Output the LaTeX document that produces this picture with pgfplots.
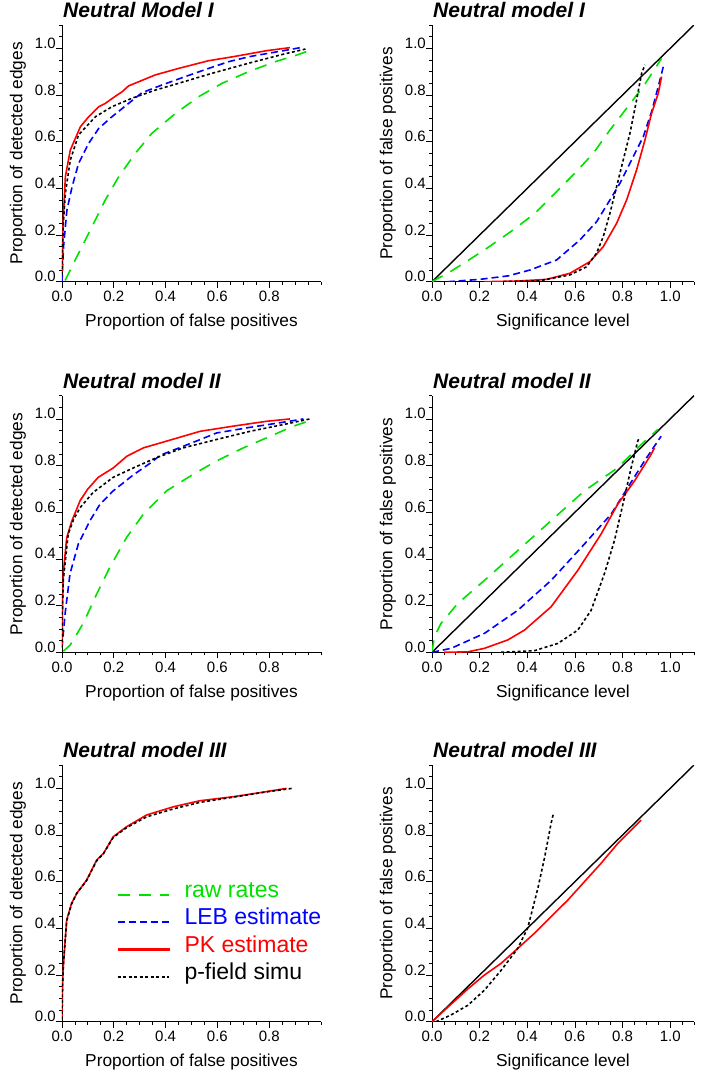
\documentclass[border=0pt]{standalone}
\usepackage{fontspec}
\setmainfont{Liberation Sans}
\usepackage{pgfplots}
\pgfplotsset{compat=1.18}

\definecolor{cgreen}{RGB}{0,225,0}
\definecolor{cblue}{RGB}{0,0,255}
\definecolor{cred}{RGB}{255,0,0}

\pgfplotsset{
  panel/.style={
    scale only axis, height=256.7pt,
    axis x line=bottom, axis y line=left,
    axis line style={-, line width=0.9pt},
    tick align=outside, major tick length=6pt, minor tick length=3pt,
    every tick/.style={black, line width=0.8pt},
    ymin=0, ymax=1.1,
    ytick={0,0.2,...,1.0}, minor ytick={0.05,0.1,...,1.1},
    scaled ticks=false,
    /pgf/number format/fixed, /pgf/number format/fixed zerofill,
    /pgf/number format/precision=1, /pgf/number format/assume math mode=true,
    tick label style={font=\fontsize{15}{18}\selectfont},
    yticklabel style={anchor=base east, inner sep=0pt},
    label style={font=\fontsize{17.3}{20}\selectfont},
    xlabel style={at={(axis description cs:0.5,0)}, anchor=base, yshift=-45pt},
    title style={font=\fontsize{21}{25}\selectfont\bfseries\itshape,
      at={(axis description cs:0,1)}, anchor=base west, inner sep=0pt, yshift=1.5pt, xshift=1pt},
  },
  leftpanel/.style={panel, width=259pt, xmin=0, xmax=1.0,
    xtick={0,0.2,...,0.8}, minor xtick={0.05,0.1,...,1.0},
    xlabel={Proportion of false positives}, ylabel={Proportion of detected edges},
    ylabel style={at={(axis description cs:-0.17,0.5)}, anchor=center}},
  rightpanel/.style={panel, width=262pt, xmin=0, xmax=1.1,
    xtick={0,0.2,...,1.0}, minor xtick={0.05,0.1,...,1.1},
    xlabel={Significance level}, ylabel={Proportion of false positives},
    ylabel style={at={(axis description cs:-0.168,0.5)}, anchor=center}},
  rawstyle/.style={cgreen, line width=1.6pt, dash pattern=on 12pt off 9pt},
  lebstyle/.style={cblue, line width=1.6pt, dash pattern=on 7pt off 4pt},
  pkstyle/.style={cred, line width=1.6pt},
  pfstyle/.style={black, line width=1.6pt, dash pattern=on 3pt off 2.5pt},
  diag/.style={black, line width=1.4pt},
}

\begin{document}
\begin{tikzpicture}
\path[use as bounding box] (0pt,0pt) rectangle (702pt,-1076pt);

% ---- row 1 ----
\begin{axis}[leftpanel, at={(62pt,-281.7pt)}, anchor=south west, title={Neutral Model I}]
\addplot[rawstyle] coordinates {(0.012,0.005)(0.019,0.021)(0.045,0.08)(0.077,0.15)(0.122,0.25)(0.167,0.35)(0.219,0.45)(0.283,0.55)(0.347,0.636)(0.438,0.721)(0.528,0.793)(0.618,0.85)(0.72,0.9)(0.824,0.943)(0.906,0.971)(0.97,0.996)};
\addplot[lebstyle] coordinates {(0,0.0)(0.003,0.08)(0.006,0.15)(0.019,0.307)(0.039,0.407)(0.064,0.507)(0.103,0.593)(0.142,0.657)(0.193,0.707)(0.257,0.764)(0.309,0.81)(0.386,0.843)(0.476,0.879)(0.566,0.914)(0.644,0.943)(0.726,0.965)(0.855,0.99)(0.925,1.004)};
\addplot[pkstyle] coordinates {(0,0.036)(0.004,0.25)(0.013,0.45)(0.032,0.564)(0.071,0.664)(0.103,0.707)(0.142,0.75)(0.167,0.764)(0.2,0.79)(0.232,0.814)(0.257,0.839)(0.36,0.886)(0.45,0.914)(0.566,0.947)(0.66,0.964)(0.79,0.99)(0.88,1.003)};
\addplot[pfstyle] coordinates {(0,0.03)(0.005,0.25)(0.013,0.379)(0.032,0.521)(0.064,0.629)(0.129,0.707)(0.193,0.75)(0.27,0.786)(0.36,0.821)(0.45,0.85)(0.579,0.893)(0.72,0.936)(0.855,0.975)(0.94,0.997)};
\end{axis}

\begin{axis}[rightpanel, at={(432pt,-281.7pt)}, anchor=south west, title={Neutral model I}]
\addplot[diag] coordinates {(0,0)(1.1,1.1)};
\addplot[rawstyle] coordinates {(0,0)(0.08,0.045)(0.15,0.09)(0.23,0.143)(0.341,0.222)(0.432,0.293)(0.516,0.379)(0.60,0.465)(0.677,0.55)(0.747,0.65)(0.817,0.743)(0.887,0.836)(0.964,0.957)};
\addplot[lebstyle] coordinates {(0.066,0)(0.201,0.01)(0.32,0.025)(0.411,0.05)(0.523,0.093)(0.621,0.179)(0.691,0.257)(0.747,0.35)(0.789,0.422)(0.838,0.522)(0.887,0.621)(0.922,0.729)(0.95,0.836)(0.971,0.921)};
\addplot[pkstyle] coordinates {(0.22,0)(0.36,0.003)(0.481,0.01)(0.579,0.036)(0.663,0.086)(0.719,0.15)(0.775,0.25)(0.817,0.35)(0.859,0.479)(0.894,0.607)(0.922,0.722)(0.95,0.807)(0.964,0.879)};
\addplot[pfstyle] coordinates {(0.3,0)(0.45,0.004)(0.579,0.029)(0.649,0.064)(0.691,0.122)(0.719,0.193)(0.747,0.293)(0.775,0.407)(0.803,0.522)(0.831,0.636)(0.859,0.779)(0.88,0.893)(0.894,0.929)};
\end{axis}

% ---- row 2 ----
\begin{axis}[leftpanel, at={(62pt,-652.3pt)}, anchor=south west, title={Neutral model II}]
\addplot[rawstyle] coordinates {(0.005,0.005)(0.031,0.03)(0.082,0.124)(0.134,0.25)(0.185,0.365)(0.25,0.493)(0.314,0.592)(0.404,0.692)(0.507,0.763)(0.597,0.82)(0.70,0.876)(0.79,0.919)(0.893,0.969)(0.97,0.997)};
\addplot[lebstyle] coordinates {(0,0.02)(0.005,0.08)(0.012,0.166)(0.031,0.337)(0.063,0.464)(0.108,0.564)(0.147,0.635)(0.198,0.692)(0.275,0.76)(0.34,0.81)(0.38,0.845)(0.45,0.875)(0.53,0.91)(0.597,0.94)(0.726,0.964)(0.855,0.986)(0.932,1.0)};
\addplot[pkstyle] coordinates {(0,0.024)(0.002,0.2)(0.005,0.34)(0.018,0.49)(0.037,0.56)(0.07,0.65)(0.10,0.70)(0.14,0.75)(0.198,0.79)(0.25,0.84)(0.314,0.876)(0.404,0.905)(0.533,0.947)(0.66,0.969)(0.79,0.99)(0.88,1.0)};
\addplot[pfstyle] coordinates {(0,0.02)(0.002,0.2)(0.005,0.31)(0.024,0.507)(0.045,0.57)(0.07,0.62)(0.12,0.685)(0.198,0.75)(0.275,0.79)(0.365,0.834)(0.468,0.876)(0.597,0.912)(0.726,0.947)(0.855,0.976)(0.957,1.0)};
\end{axis}

\begin{axis}[rightpanel, at={(432pt,-652.3pt)}, anchor=south west, title={Neutral model II}]
\addplot[diag] coordinates {(0,0)(1.1,1.1)};
\addplot[rawstyle] coordinates {(0,0)(0.01,0.067)(0.038,0.124)(0.108,0.209)(0.22,0.308)(0.36,0.436)(0.5,0.564)(0.64,0.692)(0.78,0.791)(0.878,0.89)(0.948,0.955)};
\addplot[lebstyle] coordinates {(0,0)(0.08,0.017)(0.22,0.081)(0.36,0.18)(0.5,0.308)(0.64,0.464)(0.752,0.592)(0.822,0.706)(0.892,0.82)(0.962,0.926)};
\addplot[pkstyle] coordinates {(0.05,0)(0.15,0.002)(0.22,0.017)(0.318,0.053)(0.388,0.095)(0.5,0.195)(0.612,0.351)(0.71,0.507)(0.78,0.635)(0.85,0.734)(0.92,0.848)(0.934,0.876)};
\addplot[pfstyle] coordinates {(0.29,0)(0.43,0.007)(0.528,0.038)(0.612,0.095)(0.668,0.18)(0.724,0.337)(0.766,0.479)(0.808,0.663)(0.836,0.791)(0.864,0.905)(0.871,0.922)};
\end{axis}

% ---- row 3 ----
\begin{axis}[leftpanel, at={(62pt,-1021.7pt)}, anchor=south west, title={Neutral model III},
  legend cell align=left,
  legend style={draw=none, fill=none, at={(axis description cs:0.212,0.5036)}, anchor=north west,
    inner sep=0pt, outer sep=0pt, row sep=22.3pt, column sep=15pt,
    nodes={inner sep=0pt, text height=5pt, text depth=0pt},
    font=\fontsize{23}{27}\selectfont}]
\addplot[pkstyle, forget plot] coordinates {(0,0.01)(0.002,0.15)(0.005,0.236)(0.018,0.436)(0.037,0.507)(0.057,0.55)(0.095,0.607)(0.134,0.693)(0.16,0.721)(0.198,0.793)(0.25,0.836)(0.327,0.886)(0.43,0.921)(0.533,0.947)(0.66,0.964)(0.79,0.986)(0.867,1.0)};
\addplot[pfstyle, forget plot] coordinates {(0,0.01)(0.002,0.15)(0.005,0.24)(0.018,0.43)(0.037,0.505)(0.057,0.55)(0.095,0.605)(0.134,0.69)(0.16,0.72)(0.198,0.79)(0.25,0.832)(0.327,0.878)(0.43,0.912)(0.533,0.94)(0.66,0.962)(0.79,0.985)(0.89,1.0)};
\addlegendimage{legend image code/.code={\draw[color=cgreen, line width=1.6pt, dash pattern=on 12pt off 9pt] (0pt,0pt) -- (51pt,0pt);}}
\addlegendentry{\textcolor{cgreen}{raw rates}}
\addlegendimage{legend image code/.code={\draw[color=cblue, line width=1.6pt, dash pattern=on 7pt off 4pt] (0pt,0pt) -- (51pt,0pt);}}
\addlegendentry{\textcolor{cblue}{LEB estimate}}
\addlegendimage{legend image code/.code={\fill[cred] (0pt,-0.9pt) rectangle (51pt,0.9pt);}}
\addlegendentry{\textcolor{cred}{PK estimate}}
\addlegendimage{legend image code/.code={\draw[color=black, line width=1.6pt, dash pattern=on 3pt off 2.5pt] (0pt,0pt) -- (51pt,0pt);}}
\addlegendentry{p-field simu}
\end{axis}

\begin{axis}[rightpanel, at={(432pt,-1021.7pt)}, anchor=south west, title={Neutral model III}]
\addplot[diag] coordinates {(0,0)(1.1,1.1)};
\addplot[pkstyle] coordinates {(0,0)(0.08,0.075)(0.15,0.14)(0.22,0.2)(0.29,0.25)(0.36,0.314)(0.43,0.379)(0.5,0.45)(0.57,0.521)(0.64,0.6)(0.71,0.679)(0.78,0.764)(0.822,0.807)(0.878,0.864)};
\addplot[pfstyle] coordinates {(0.017,0)(0.08,0.029)(0.15,0.07)(0.22,0.135)(0.29,0.22)(0.36,0.314)(0.402,0.402)(0.444,0.57)(0.472,0.70)(0.50,0.85)(0.51,0.893)};
\end{axis}
\end{tikzpicture}
\end{document}
